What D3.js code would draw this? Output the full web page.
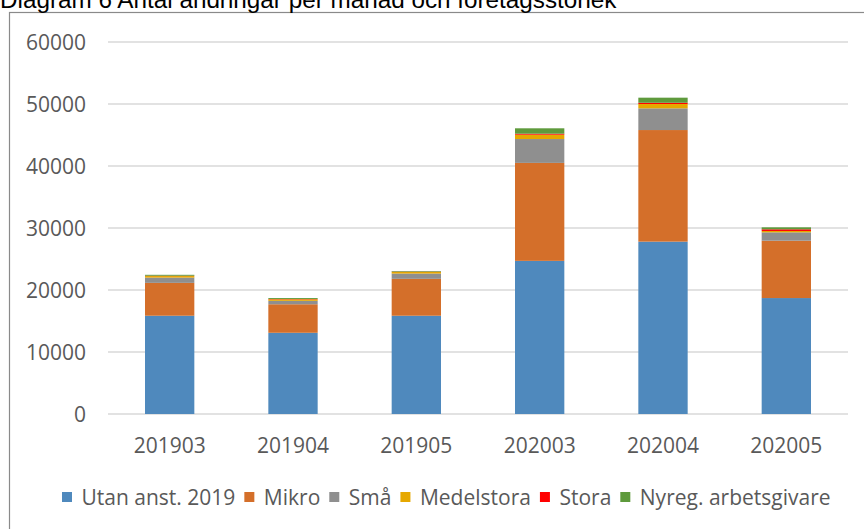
<!DOCTYPE html>
<html><head><meta charset="utf-8">
<script src="https://cdn.jsdelivr.net/npm/d3@7"></script>
<style>
html,body{margin:0;padding:0;background:#fff;overflow:hidden;}
svg{display:block;}
</style></head>
<body>
<svg id="chart" width="864" height="529"></svg>
<script>
const title = "Diagram 6 Antal ändringar per månad och företagsstorlek";
const categories = ["201903","201904","201905","202003","202004","202005"];
const seriesNames = ["Utan anst. 2019","Mikro","Små","Medelstora","Stora","Nyreg. arbetsgivare"];
const seriesColors = ["#4f89bd","#d46f2a","#8f8f8f","#e6a800","#ff0000","#5e9a3c"];
const utanAnst = [15850, 13100, 15850, 24700, 27800, 18700];
const mikro    = [5300, 4600, 5950, 15800, 18000, 9250];
const sma      = [850, 550, 850, 3850, 3500, 1350];
const medelstora = [250, 250, 250, 700, 700, 220];
const stora    = [50, 50, 50, 160, 200, 270];
const nyreg    = [150, 150, 100, 870, 820, 320];
const yTicks = [0, 10000, 20000, 30000, 40000, 50000, 60000];

const seriesValues = [utanAnst, mikro, sma, medelstora, stora, nyreg];
const rows = categories.map((c,i)=>{
  const r = {cat:c};
  seriesNames.forEach((s,j)=>{ r[s] = seriesValues[j][i]; });
  return r;
});

const svg = d3.select("#chart");
const font = "'Open Sans', sans-serif";
const fs = 21;
const textColor = "#595959";

// frame
svg.append("rect").attr("x",9.5).attr("y",12.5).attr("width",900).attr("height",600)
  .attr("fill","none").attr("stroke","#8a8a8a").attr("stroke-width",1.2);

// title (partially cut off at top, as in the source)
const t = svg.append("text").attr("x",0).attr("y",8)
  .attr("font-family","'Liberation Sans', Arial, sans-serif").attr("font-size",20)
  .attr("fill","#000").text(title);
const tl = t.node().getComputedTextLength();
t.attr("font-size", 20*617/tl);

const x = d3.scaleBand().domain(categories).range([108,848]).paddingInner(0.6).paddingOuter(0.3);
const y = d3.scaleLinear().domain([0,60000]).range([414,42]);

// gridlines
svg.append("g").selectAll("line").data(yTicks).join("line")
  .attr("x1",108).attr("x2",848)
  .attr("y1",d=>y(d)).attr("y2",d=>y(d))
  .attr("stroke","#d9d9d9").attr("stroke-width",1.6);

// y axis labels
const yAxis = svg.append("g").attr("transform","translate(86,0)")
  .call(d3.axisLeft(y).tickValues(yTicks).tickSize(0).tickPadding(0).tickFormat(d3.format("d")));
yAxis.select(".domain").remove();
yAxis.selectAll("text").attr("font-family",font).attr("font-size",fs).attr("fill",textColor)
  .attr("dy","0.36em");

// stacked bars
const stack = d3.stack().keys(seriesNames)(rows);
svg.append("g").selectAll("g").data(stack).join("g")
  .attr("fill",(d,i)=>seriesColors[i])
  .selectAll("rect").data(d=>d).join("rect")
  .attr("x",d=>x(d.data.cat))
  .attr("width",x.bandwidth())
  .attr("y",d=>y(d[1]))
  .attr("height",d=>y(d[0])-y(d[1]));

// x axis labels
const xAxis = svg.append("g").attr("transform","translate(0,414)")
  .call(d3.axisBottom(x).tickSize(0).tickPadding(0));
xAxis.select(".domain").remove();
xAxis.selectAll("text").attr("font-family",font).attr("font-size",fs).attr("fill",textColor)
  .attr("dy",null).attr("y",38.5);

// legend
const lg = svg.append("g");
let lx = 62;
seriesNames.forEach((s,i)=>{
  lg.append("rect").attr("x",lx).attr("y",492).attr("width",10).attr("height",10).attr("fill",seriesColors[i]);
  const tx = lg.append("text").attr("x",lx+19.5).attr("y",504.5)
    .attr("font-family",font).attr("font-size",fs).attr("fill",textColor).text(s);
  lx += 19.5 + tx.node().getComputedTextLength() + 9;
});
</script>
</body></html>
